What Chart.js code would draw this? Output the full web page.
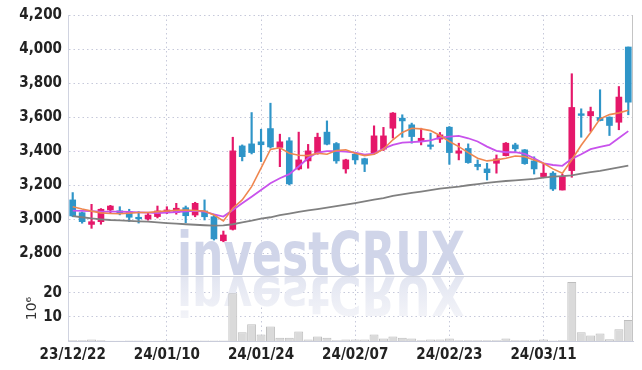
<!DOCTYPE html>
<html>
<head>
<meta charset="utf-8">
<script src="https://cdn.jsdelivr.net/npm/chart.js@4.4.1/dist/chart.umd.min.js"></script>
<style>
  html, body { margin: 0; padding: 0; background: #fff; }
</style>
</head>
<body>
<canvas id="StockChart" width="642" height="370"></canvas>
<script>
  'use strict'

  // trading days
  var dates = ['23/12/22','23/12/26','23/12/27','23/12/28','24/01/02','24/01/03','24/01/04','24/01/05','24/01/08','24/01/09',
    '24/01/10','24/01/11','24/01/12','24/01/15','24/01/16','24/01/17','24/01/18','24/01/19','24/01/22','24/01/23',
    '24/01/24','24/01/25','24/01/26','24/01/29','24/01/30','24/01/31','24/02/01','24/02/02','24/02/05','24/02/06',
    '24/02/07','24/02/08','24/02/13','24/02/14','24/02/15','24/02/16','24/02/19','24/02/20','24/02/21','24/02/22',
    '24/02/23','24/02/26','24/02/27','24/02/28','24/02/29','24/03/04','24/03/05','24/03/06','24/03/07','24/03/08',
    '24/03/11','24/03/12','24/03/13','24/03/14','24/03/15','24/03/18','24/03/19','24/03/20','24/03/21','24/03/22'];
  var tickDates = ['23/12/22','24/01/10','24/01/24','24/02/07','24/02/23','24/03/11'];

  // OHLC
  var openP  = [3114,3039,2970,2986,3055,3050,3045,3012,3002,3016, 3041,3039,3068,3025,3049,3015,2874,2941,3431,3443,
                3455,3533,3422,3461,3296,3343,3388,3512,3445,3296, 3382,3356,3388,3412,3535,3594,3555,3457,3437,3471,
                3541,3388,3416,3323,3296,3329,3374,3437,3408,3343, 3251,3271,3172,3286,3620,3608,3598,3600,3570,4012];
  var highP  = [3157,3043,3088,3063,3082,3074,3059,3045,3040,3078, 3074,3094,3078,3100,3114,3030,2931,3482,3437,3627,
                3529,3682,3500,3480,3512,3440,3506,3578,3451,3353, 3388,3359,3549,3540,3627,3614,3565,3535,3506,3510,
                3545,3447,3443,3349,3329,3378,3451,3447,3410,3367, 3326,3280,3265,3855,3649,3659,3761,3602,3780,4012];
  var lowP   = [3015,2977,2947,2971,3035,3026,2987,2978,2995,3008, 3033,3030,2980,3015,2996,2878,2868,2937,3343,3384,
                3339,3418,3309,3202,3290,3300,3382,3437,3329,3271, 3325,3280,3382,3404,3477,3482,3447,3437,3412,3451,
                3323,3349,3329,3290,3231,3271,3372,3398,3323,3266, 3250,3169,3172,3247,3482,3516,3578,3492,3526,3614];
  var closeP = [3020,2986,2986,3059,3078,3036,3012,3003,3025,3049, 3055,3065,3021,3094,3015,2885,2908,3402,3368,3392,
                3438,3425,3455,3208,3349,3402,3482,3441,3343,3349, 3349,3324,3490,3490,3624,3578,3486,3476,3428,3496,
                3392,3402,3333,3310,3274,3355,3447,3414,3327,3296, 3271,3178,3251,3657,3610,3633,3580,3551,3718,3688];

  // moving averages
  var maShort = [3074,3060,3048,3038,3034,3033,3036,3040,3040,3045, 3049,3053,3055,3052,3049,3025,2990,3065,3114,3192,
                 3300,3410,3420,3388,3376,3374,3388,3382,3404,3408, 3388,3374,3382,3412,3467,3510,3535,3531,3521,3492,
                 3457,3427,3392,3359,3343,3349,3359,3372,3368,3349, 3329,3296,3271,3350,3435,3510,3590,3615,3625,3640];
  var maMid   = [3051,3050,3048,3045,3045,3045,3043,3041,3039,3037, 3040,3043,3047,3049,3045,3029,3016,3055,3094,3133,
                 3172,3212,3241,3265,3310,3360,3392,3400,3400,3398, 3392,3380,3385,3415,3437,3450,3453,3457,3463,3480,
                 3486,3490,3476,3457,3427,3402,3394,3394,3384,3359, 3329,3319,3314,3355,3382,3412,3425,3437,3478,3518];
  var maLong  = [3019,3012,3005,3000,2996,2994,2991,2988,2986,2982, 2978,2975,2971,2968,2965,2963,2964,2971,2982,2992,
                 3004,3012,3024,3034,3044,3052,3060,3069,3078,3086, 3095,3105,3115,3125,3137,3147,3155,3163,3172,3180,
                 3186,3192,3200,3207,3214,3220,3225,3229,3233,3238, 3245,3251,3254,3258,3268,3277,3285,3295,3305,3315];

  // volume (10^6)
  var volume = [0.3,0.3,0.6,0.3,0.1,0.1,0.2,0.2,0.1,0.1, 0.2,0.2,0.2,0.2,0.2,0.2,0.2,19.8,3.6,7.0,
                2.7,6.0,1.4,1.4,3.9,0.6,1.9,1.4,0.3,0.6, 0.6,0.6,2.7,1.0,1.9,1.4,1.0,0.3,0.6,0.6,
                1.0,0.3,0.3,0.3,0.3,0.3,1.0,0.3,0.3,0.3, 0.6,0.2,0.3,24.5,3.6,2.3,3.1,0.7,4.9,8.7];

  var priceTicks = [2800,3000,3200,3400,3600,3800,4000,4200];
  var volumeTicks = [10,20];

  var upColor = '#e5186a';
  var downColor = '#2f95c8';
  var gridColor = '#c6c9da';
  var tickFont = { family: "'Liberation Sans Narrow', 'DejaVu Sans Condensed', sans-serif", size: 15, weight: 'bold' };

  var candleColors = closeP.map(function(c, i) { return c >= openP[i] ? upColor : downColor; });
  var wicks = lowP.map(function(l, i) { return [l, highP[i]]; });
  var bodies = openP.map(function(o, i) { return [o, closeP[i]]; });

  /*----watermark + panel borders----*/
  var decor = {
    id: 'decor',
    beforeDatasetsDraw: function(chart) {
      var c = chart.ctx, base = chart.scales.y.bottom, mid = chart.width / 2;
      c.save();
      c.font = 'bold 60px "Liberation Sans Narrow", "DejaVu Sans Condensed", sans-serif';
      c.textAlign = 'center';
      c.textBaseline = 'alphabetic';
      var sx = 288 / c.measureText('investCRUX').width;
      c.translate(mid, base);
      c.scale(sx, 1);
      c.fillStyle = '#d0d5e9';
      c.fillText('investCRUX', 0, -1);
      c.scale(1, -0.88);
      var g = c.createLinearGradient(0, 0, 0, -45);
      g.addColorStop(0, '#e2e5f1');
      g.addColorStop(1, '#f2f3f8');
      c.fillStyle = g;
      c.fillText('investCRUX', 0, -1);
      c.restore();
    },
    afterDraw: function(chart) {
      var c = chart.ctx, a = chart.chartArea, sep = chart.scales.y.bottom;
      c.save();
      c.strokeStyle = '#cfd2de';
      c.lineWidth = 1;
      c.beginPath();
      c.moveTo(a.left, sep + 0.5);
      c.lineTo(a.right, sep + 0.5);
      c.stroke();
      c.strokeStyle = '#c4c4c4';
      c.beginPath();
      c.moveTo(a.right - 0.5, a.top);
      c.lineTo(a.right - 0.5, a.bottom);
      c.stroke();
      c.restore();
    }
  };

  var ctx = document.getElementById('StockChart');
  var myChart = new Chart(ctx, {
    type: 'bar',
    data: {
      labels: dates,
      datasets: [
        { type: 'line', label: 'MA5', data: maShort, borderColor: '#ef8750', borderWidth: 1.6, pointRadius: 0, yAxisID: 'y', order: 0 },
        { type: 'line', label: 'MA20', data: maMid, borderColor: '#c852ec', borderWidth: 1.8, pointRadius: 0, yAxisID: 'y', order: 0 },
        { type: 'line', label: 'MA60', data: maLong, borderColor: '#808080', borderWidth: 1.8, pointRadius: 0, yAxisID: 'y', order: 0 },
        { label: 'wick', data: wicks, backgroundColor: candleColors, barThickness: 1.5, grouped: false, yAxisID: 'y', order: 1 },
        { label: 'body', data: bodies, backgroundColor: candleColors, barThickness: 6, minBarLength: 1, grouped: false, yAxisID: 'y', order: 1 },
        { label: 'Volume', data: volume, backgroundColor: '#dadada', borderColor: '#bdbdbd', borderWidth: 1,
          barPercentage: 1, categoryPercentage: 0.95, grouped: false, yAxisID: 'v', order: 2 }
      ]
    },
    options: {
      responsive: false,
      animation: false,
      devicePixelRatio: 1,
      layout: { padding: { top: 15, right: 9, left: 0, bottom: 0 } },
      plugins: {
        legend: { display: false },
        tooltip: { enabled: false }
      },
      scales: {
        x: {
          offset: true,
          grid: {
            offset: false,
            drawTicks: false,
            color: function(c) { return (c.index > 0 && tickDates.indexOf(dates[c.index]) >= 0) ? gridColor : 'rgba(0,0,0,0)'; }
          },
          border: { color: '#c9ccda', dash: [1.5, 3] },
          ticks: {
            autoSkip: false,
            maxRotation: 0,
            padding: 5,
            color: '#222',
            font: tickFont,
            callback: function(v, i) { return tickDates.indexOf(dates[i]) >= 0 ? dates[i] : ''; }
          },
          afterFit: function(s) { s.height = 29; }
        },
        v: {
          position: 'left',
          stack: 'panel',
          stackWeight: 65,
          min: 0,
          max: 27,
          grid: { drawTicks: false, color: gridColor },
          border: { color: '#d0d3e0', dash: [1.5, 3] },
          ticks: { autoSkip: false, padding: 6, color: '#222', font: tickFont },
          afterBuildTicks: function(s) { s.ticks = volumeTicks.map(function(t) { return { value: t }; }); },
          title: { display: true, text: '10\u2076', color: '#333', padding: { top: 24 },
            font: { family: "'DejaVu Sans', sans-serif", size: 14 } },
          afterFit: function(s) { s.width = 68; }
        },
        y: {
          position: 'left',
          stack: 'panel',
          stackWeight: 261,
          min: 2667,
          max: 4200,
          grid: { drawTicks: false, color: gridColor },
          border: { color: '#d0d3e0', dash: [1.5, 3] },
          ticks: {
            autoSkip: false,
            padding: 6,
            color: '#222',
            font: tickFont,
            callback: function(v) { return v.toLocaleString('en-US'); }
          },
          afterBuildTicks: function(s) { s.ticks = priceTicks.map(function(t) { return { value: t }; }); },
          afterFit: function(s) { s.width = 68; }
        }
      }
    },
    plugins: [decor]
  });
</script>
</body>
</html>
